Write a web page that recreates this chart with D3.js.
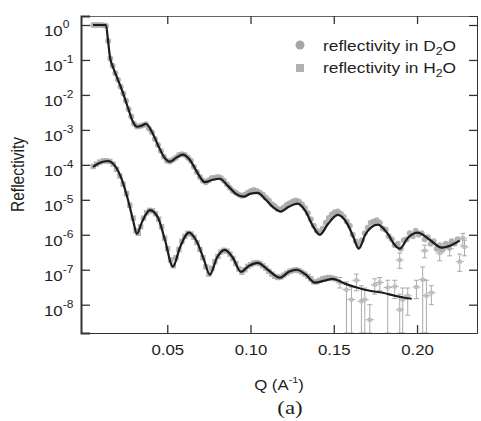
<!DOCTYPE html>
<html>
<head>
<meta charset="utf-8">
<script src="https://cdn.jsdelivr.net/npm/d3@7"></script>
<style>
  body { margin: 0; background: #fff; }
  svg text { font-family: "Liberation Sans", Arial, sans-serif; fill: #1e1e1e; }
</style>
</head>
<body>
<svg id="chart" width="481" height="421"></svg>
<script>
// measured data, D2O (upper curve)
const qD2O = [0.0055,0.0075,0.0095,0.0115,0.0132,0.0145,0.0158,0.0172,0.0188,0.0204,0.022,0.0236,0.0252,0.0268,0.0284,0.03,0.0318,0.0336,0.0354,0.0372,0.039,0.0408,0.0426,0.0444,0.0462,0.048,0.0498,0.0516,0.0534,0.0552,0.057,0.0588,0.0606,0.0624,0.0642,0.066,0.0678,0.0696,0.0714,0.0732,0.075,0.0768,0.0786,0.0804,0.0822,0.084,0.0858,0.0876,0.0894,0.0912,0.093,0.0948,0.0966,0.0984,0.1002,0.102,0.1038,0.1056,0.1074,0.1092,0.111,0.1128,0.1146,0.1164,0.1182,0.12,0.1218,0.1236,0.1254,0.1272,0.129,0.1308,0.1326,0.1344,0.1362,0.138,0.1398,0.1416,0.1434,0.1452,0.147,0.1488,0.1506,0.1524,0.1542,0.156,0.1578,0.1596,0.1614,0.1632,0.165,0.1668,0.1686,0.1704,0.1722,0.174,0.1758,0.1776,0.1794,0.1812,0.183,0.1848,0.1866,0.1884,0.1902,0.192,0.1938,0.1956,0.1974,0.1992,0.201,0.2028,0.2046,0.2064,0.2082,0.21,0.2118,0.2136,0.2154,0.2172,0.219,0.2208,0.2226,0.2244];
const rD2O = [1.0,1.0,1.0,0.98,0.95,0.35,0.11,0.068,0.042,0.027,0.017,0.011,0.0068,0.0039,0.0024,0.0015,0.00125,0.00128,0.00135,0.00145,0.0011,0.00085,0.00055,0.00037,0.00025,0.00017,0.00013,0.000125,0.00014,0.00016,0.00019,0.0002,0.00019,0.00016,0.00013,8.8e-5,6.2e-5,4.5e-5,3.5e-5,3.2e-5,3.6e-5,4.2e-5,4.3e-5,4.5e-5,4.2e-5,3.5e-5,2.8e-5,2.2e-5,1.8e-5,1.6e-5,1.4e-5,1.3e-5,1.4e-5,1.6e-5,1.8e-5,1.9e-5,1.8e-5,1.6e-5,1.4e-5,1.15e-5,9.5e-6,7.5e-6,6.5e-6,5.5e-6,5.3e-6,6.0e-6,7.2e-6,8.0e-6,9.0e-6,9.5e-6,9.0e-6,7.5e-6,5.8e-6,4.2e-6,2.8e-6,1.8e-6,1.3e-6,1.15e-6,1.5e-6,2.2e-6,3.0e-6,3.8e-6,4.4e-6,4.6e-6,4.0e-6,3.3e-6,2.4e-6,1.8e-6,1.0e-6,6.5e-7,5.0e-7,7.0e-7,1.1e-6,1.6e-6,2.2e-6,2.4e-6,2.6e-6,2.2e-6,1.5e-6,1.4e-6,9.0e-7,7.5e-7,5.0e-7,5.5e-7,4.0e-7,7.0e-7,7.5e-7,1.1e-6,9.0e-7,1.3e-6,1.0e-6,1.1e-6,7.5e-7,8.5e-7,5.5e-7,6.5e-7,4.0e-7,5.0e-7,3.8e-7,5.5e-7,4.5e-7,6.5e-7,5.5e-7,7.5e-7,6.0e-7];
// noisy D2O points with error bars: Q, R, low, high
const tailD2O = [[0.1896,1.9e-7,1.1e-7,3.0e-7],[0.2046,3.5e-7,2.2e-7,5.0e-7],[0.2136,3.0e-7,1.8e-7,4.5e-7],[0.2196,4.0e-7,2.5e-7,6.0e-7],[0.2256,1.7e-7,9e-8,2.8e-7],[0.2275,8e-7,5e-7,1.1e-6],[0.2285,4.5e-7,2.5e-7,7e-7]];

// measured data, H2O (lower curve)
const qH2O = [0.0055,0.0075,0.0095,0.0115,0.0135,0.0155,0.0175,0.0195,0.0215,0.0235,0.0255,0.0275,0.0295,0.0312,0.0326,0.034,0.0358,0.0376,0.0394,0.0412,0.043,0.0448,0.0466,0.0484,0.0502,0.052,0.0536,0.0552,0.057,0.0588,0.0606,0.0624,0.0642,0.066,0.0678,0.0696,0.0714,0.0732,0.075,0.0768,0.0786,0.0804,0.0822,0.084,0.0858,0.0876,0.0894,0.0912,0.093,0.0948,0.0966,0.0984,0.1002,0.102,0.1038,0.1056,0.1074,0.1092,0.111,0.1128,0.1146,0.1164,0.1182,0.12,0.1218,0.1236,0.1254,0.1272,0.129,0.1308,0.1326,0.1344,0.1362,0.138,0.1398,0.1416,0.1434,0.1452,0.147,0.1488,0.1506];
const rH2O = [9.0e-5,1.05e-4,1.2e-4,1.3e-4,1.3e-4,1.25e-4,1.05e-4,7.5e-5,4.8e-5,2.8e-5,1.5e-5,7.0e-6,3.0e-6,1.3e-6,1.1e-6,1.7e-6,3.0e-6,4.3e-6,5.0e-6,4.8e-6,4.0e-6,2.8e-6,1.7e-6,8.0e-7,4.0e-7,1.9e-7,1.3e-7,2.2e-7,3.8e-7,6.5e-7,9.0e-7,1.1e-6,1.05e-6,8.5e-7,6.0e-7,3.8e-7,2.2e-7,1.2e-7,7.5e-8,1.1e-7,1.7e-7,2.4e-7,3.2e-7,3.6e-7,3.4e-7,2.8e-7,2.1e-7,1.5e-7,1.05e-7,8.5e-8,1.0e-7,1.25e-7,1.4e-7,1.55e-7,1.6e-7,1.5e-7,1.3e-7,1.1e-7,9.0e-8,7.5e-8,6.5e-8,6.0e-8,6.2e-8,7.0e-8,8.0e-8,9.0e-8,9.5e-8,1.0e-7,9.5e-8,8.5e-8,7.5e-8,6.5e-8,5.5e-8,4.5e-8,4.5e-8,5.0e-8,5.5e-8,5.8e-8,6.0e-8,5.8e-8,5.5e-8];
// noisy H2O points with error bars: Q, R, low, high (low 0 = runs off the bottom)
const tailH2O = [[0.1536,4.3e-8,3.0e-8,6.0e-8],[0.1576,2.7e-8,0,4.5e-8],[0.1606,1.4e-8,0,3.2e-8],[0.1636,5.0e-8,2.5e-8,7.5e-8],[0.1666,1.25e-8,0,3.5e-8],[0.1686,1.4e-8,0,3.0e-8],[0.1716,3.7e-9,0,1.0e-8],[0.1746,3.7e-8,2.0e-8,5.5e-8],[0.1776,4.3e-8,2.5e-8,6.0e-8],[0.1824,3.1e-8,0,5.0e-8],[0.1866,3.3e-8,1.5e-8,5.0e-8],[0.1896,7.2e-9,0,2.0e-8],[0.1914,1.4e-8,0,3.0e-8],[0.1944,1.8e-8,5e-9,3.0e-8],[0.1996,3.2e-8,1.5e-8,5.0e-8],[0.2034,5.2e-8,0,1.2e-7],[0.2056,1.8e-8,0,5e-8],[0.2086,2.2e-8,1.0e-8,3.5e-8]];

// fitted curves
const fitQD2O = [0.0054,0.0132,0.0144,0.0156,0.0174,0.0204,0.0234,0.0264,0.0294,0.0318,0.0342,0.0372,0.0408,0.0444,0.048,0.0516,0.0552,0.0594,0.0636,0.0678,0.0726,0.0768,0.0816,0.0864,0.0912,0.096,0.0996,0.1044,0.1092,0.114,0.1182,0.123,0.1284,0.1332,0.1374,0.1416,0.1464,0.1524,0.1584,0.162,0.165,0.1692,0.1764,0.1824,0.1866,0.1896,0.1944,0.2004,0.2076,0.2148,0.2208,0.2256];
const fitRD2O = [1,1,0.37,0.12,0.063,0.027,0.0115,0.0043,0.0017,0.00123,0.00129,0.00148,0.00087,0.00037,0.00017,0.000123,0.000158,0.000195,0.000138,6.3e-5,3.2e-5,3.7e-5,4.0e-5,2.5e-5,1.48e-5,1.23e-5,1.48e-5,1.58e-5,1.0e-5,5.9e-6,4.6e-6,6.3e-6,7.8e-6,4.6e-6,1.8e-6,1.0e-6,2.0e-6,3.7e-6,1.95e-6,8.1e-7,4.0e-7,1.07e-6,1.95e-6,1.07e-6,5.1e-7,4.0e-7,8.1e-7,1.15e-6,7.2e-7,4.3e-7,5.1e-7,6.8e-7];
const fitQH2O = [0.0054,0.0096,0.0144,0.0186,0.0228,0.0264,0.0294,0.0318,0.0348,0.0396,0.0444,0.0486,0.0534,0.0576,0.063,0.0678,0.072,0.0756,0.0798,0.0846,0.0894,0.0942,0.099,0.1044,0.1104,0.1176,0.123,0.1278,0.1332,0.1386,0.1446,0.1494,0.1566,0.1638,0.1716,0.1794,0.1866,0.1926,0.1968];
const fitRH2O = [8.7e-5,1.15e-4,1.29e-4,9.3e-5,3.7e-5,1.0e-5,2.7e-6,1.07e-6,2.3e-6,5.1e-6,3.1e-6,7.2e-7,1.23e-7,4.3e-7,1.15e-6,6.3e-7,1.95e-7,7.2e-8,2.2e-7,3.7e-7,2.2e-7,8.7e-8,1.29e-7,1.58e-7,1.0e-7,5.9e-8,8.7e-8,1.0e-7,7.2e-8,4.3e-8,4.9e-8,5.5e-8,4.0e-8,3.1e-8,2.5e-8,2.2e-8,1.8e-8,1.58e-8,1.48e-8];

const xTicks = [0.05, 0.10, 0.15, 0.20];
const yTicks = [1e0,1e-1,1e-2,1e-3,1e-4,1e-5,1e-6,1e-7,1e-8];
const yExp = ["0","-1","-2","-3","-4","-5","-6","-7","-8"];
const legendLabels = [["reflectivity in D", "2", "O"], ["reflectivity in H", "2", "O"]];

const margin = {top: 16, right: 4, bottom: 88, left: 81};
const W = 481, H = 421;
const xs = margin.left, xe = W - margin.right, ys = margin.top, ye = H - margin.bottom;
const svg = d3.select("#chart");
const SX = 1.2; // the scanned figure's text is stretched sideways

const x = d3.scaleLinear().domain([-0.0018, 0.236]).range([xs, xe]);
const y = d3.scaleLog().domain([1.81, 1.55e-9]).range([ys, ye]);
const yc = v => v <= 0 ? ye : Math.min(ye, y(v));

const defs = svg.append("defs");
defs.append("clipPath").attr("id", "clip").append("rect")
  .attr("x", xs).attr("y", ys).attr("width", xe - xs).attr("height", ye - ys);
defs.append("filter").attr("id", "soft").append("feGaussianBlur").attr("stdDeviation", 0.7);

const plot = svg.append("g").attr("clip-path", "url(#clip)");
const grey = "#a6a6a6";

function drawTail(tail) {
  const g = plot.append("g").attr("stroke", "#a0a0a0").attr("stroke-width", 0.9).attr("fill", "none");
  tail.forEach(d => {
    const cx = x(d[0]);
    g.append("line").attr("x1", cx).attr("x2", cx).attr("y1", yc(d[2])).attr("y2", yc(d[3]));
    g.append("line").attr("x1", cx - 2.5).attr("x2", cx + 2.5).attr("y1", yc(d[2])).attr("y2", yc(d[2]));
    g.append("line").attr("x1", cx - 2.5).attr("x2", cx + 2.5).attr("y1", yc(d[3])).attr("y2", yc(d[3]));
    g.append("line").attr("x1", cx - 4).attr("x2", cx + 4).attr("y1", y(d[1])).attr("y2", y(d[1]));
    g.append("rect").attr("x", cx - 2).attr("y", y(d[1]) - 2).attr("width", 4).attr("height", 4)
      .attr("fill", "#bdbdbd").attr("stroke", "none");
  });
}
drawTail(tailD2O);
drawTail(tailH2O);

// markers, softened like the scan
const mk = plot.append("g").attr("filter", "url(#soft)");
mk.append("g").selectAll("circle").data(d3.zip(qD2O, rD2O)).join("circle")
  .attr("cx", d => x(d[0])).attr("cy", d => y(d[1])).attr("r", 3)
  .attr("fill", grey).attr("opacity", 0.85);
mk.append("g").selectAll("rect").data(d3.zip(qH2O, rH2O)).join("rect")
  .attr("x", d => x(d[0]) - 2.7).attr("y", d => y(d[1]) - 2.7).attr("width", 5.4).attr("height", 5.4)
  .attr("fill", grey).attr("opacity", 0.85);

// fit lines
const line = d3.line().x(d => x(d[0])).y(d => y(d[1])).curve(d3.curveMonotoneX);
[[fitQD2O, fitRD2O], [fitQH2O, fitRH2O]].forEach(([qs, rs]) => {
  plot.append("path").datum(d3.zip(qs, rs)).attr("d", line)
    .attr("fill", "none").attr("stroke", "#1c1c1c").attr("stroke-width", 2.2)
    .attr("stroke-linejoin", "round");
});

// axes, ticks pointing inward
const axG = svg.append("g");
axG.append("g").attr("transform", `translate(0,${ye})`)
  .call(d3.axisBottom(x).tickValues(xTicks).tickSize(-8).tickPadding(12).tickFormat(d3.format(".2f")))
  .call(g => g.selectAll("text").attr("transform", `scale(${SX},1)`).attr("font-size", 14).attr("fill", "#1e1e1e"));
axG.append("g").attr("transform", `translate(0,${ys})`)
  .call(d3.axisTop(x).tickValues(xTicks).tickSize(-8).tickFormat(""))
  .call(g => g.select(".domain").attr("stroke", "#666"));
axG.append("g").attr("transform", `translate(${xs},0)`)
  .call(d3.axisLeft(y).tickValues(yTicks).tickSize(-9).tickFormat(""))
  .call(g => g.select(".domain").attr("stroke-width", 2).attr("stroke", "#333"));
axG.append("g").attr("transform", `translate(${xe},0)`)
  .call(d3.axisRight(y).tickValues(yTicks).tickSize(-8).tickFormat(""))
  .call(g => g.select(".domain").attr("stroke", "#333"));
axG.select("g").select(".domain").attr("stroke", "#333");
axG.selectAll(".tick line").attr("stroke", "#333").attr("stroke-width", 1.3);

// y tick labels as 10^n
yTicks.forEach((v, i) => {
  const t = svg.append("text").attr("transform", `translate(44,${y(v) + 11}) scale(${SX},1)`)
    .attr("font-size", 14);
  t.append("tspan").text("10");
  t.append("tspan").attr("font-size", 10).attr("dy", -8).text(yExp[i]);
});

// axis titles
svg.append("text").attr("transform", `translate(24,${(ys + ye) / 2}) rotate(-90) scale(1,${SX})`)
  .attr("text-anchor", "middle").attr("font-size", 15.5).text("Reflectivity");
const xt = svg.append("text").attr("transform", `translate(${(xs + xe) / 2},390) scale(${SX},1)`)
  .attr("text-anchor", "middle").attr("font-size", 14);
xt.append("tspan").text("Q (A");
xt.append("tspan").attr("font-size", 9).attr("dy", -7).text("-1");
xt.append("tspan").attr("dy", 7).text(")");
svg.append("text").attr("transform", `translate(290,414) scale(${SX},1)`)
  .attr("text-anchor", "middle").attr("font-size", 19)
  .style("font-family", "'Liberation Serif', 'Times New Roman', serif").text("(a)");

// legend
const leg = svg.append("g");
leg.append("circle").attr("cx", 300).attr("cy", 45).attr("r", 4.5).attr("fill", grey);
leg.append("rect").attr("x", 296).attr("y", 64).attr("width", 8).attr("height", 8).attr("fill", "#b0b0b0");
legendLabels.forEach((lab, i) => {
  const t = leg.append("text").attr("transform", `translate(323,${51 + i * 22}) scale(1.12,1)`).attr("font-size", 15.5);
  t.append("tspan").text(lab[0]);
  t.append("tspan").attr("font-size", 11).attr("dy", 4).text(lab[1]);
  t.append("tspan").attr("dy", -4).text(lab[2]);
});
</script>
</body>
</html>
